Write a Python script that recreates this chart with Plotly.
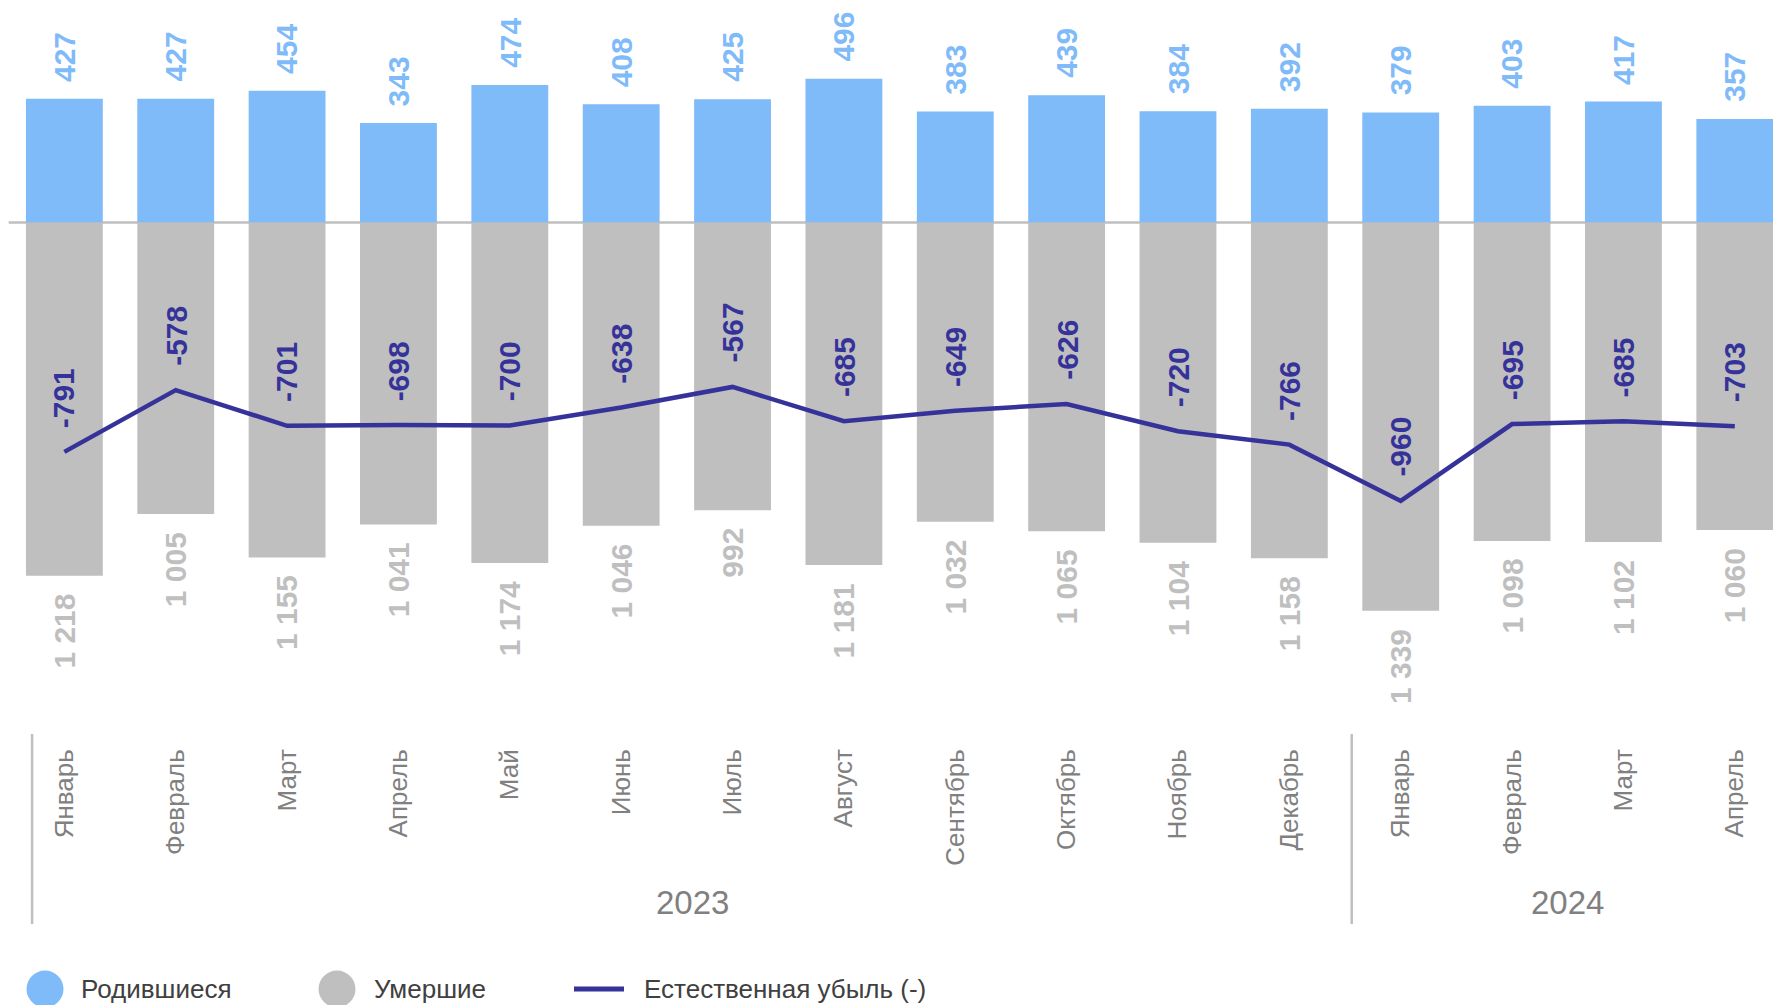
import plotly.graph_objects as go

months = ["Январь", "Февраль", "Март", "Апрель", "Май", "Июнь", "Июль", "Август",
          "Сентябрь", "Октябрь", "Ноябрь", "Декабрь", "Январь", "Февраль", "Март", "Апрель"]
years = ["2023", "2024"]
births = [427, 427, 454, 343, 474, 408, 425, 496, 383, 439, 384, 392, 379, 403, 417, 357]
deaths = [1218, 1005, 1155, 1041, 1174, 1046, 992, 1181, 1032, 1065, 1104, 1158, 1339, 1098, 1102, 1060]
natural = [-791, -578, -701, -698, -700, -638, -567, -685, -649, -626, -720, -766, -960, -695, -685, -703]

W, H = 1773, 1005
PH = 735  # plot area height (px)
BLUE = "#7FBAF9"
GRAY = "#BFBFBF"
NAVY = "#35329A"
TXT = "#808080"
FONT = "Liberation Sans, Arial, sans-serif"

x = list(range(len(months)))

fig = go.Figure()
fig.add_trace(go.Bar(x=x, y=births, marker=dict(color=BLUE, line=dict(width=0)),
                     width=0.69, name="Родившиеся", showlegend=False, hoverinfo="y"))
fig.add_trace(go.Bar(x=x, y=[-d for d in deaths], marker=dict(color=GRAY, line=dict(width=0)),
                     width=0.69, name="Умершие", showlegend=False, hoverinfo="y"))
fig.add_trace(go.Scatter(x=x, y=natural, mode="lines", line=dict(color=NAVY, width=4.5),
                         name="Естественная убыль (-)", showlegend=False))

ann = []
for i in x:
    ann.append(dict(x=i, y=births[i], xref="x", yref="y", text=str(births[i]),
                    textangle=-90, showarrow=False, yanchor="bottom", xanchor="center",
                    yshift=15, font=dict(family=FONT, size=30, color=BLUE, weight="bold")))
    ann.append(dict(x=i, y=-deaths[i], xref="x", yref="y",
                    text=f"{deaths[i]:,}".replace(",", " "),
                    textangle=-90, showarrow=False, yanchor="top", xanchor="center",
                    yshift=-16, font=dict(family=FONT, size=30, color=GRAY, weight="bold")))
    ann.append(dict(x=i, y=natural[i], xref="x", yref="y", text=str(natural[i]),
                    textangle=-90, showarrow=False, yanchor="bottom", xanchor="center",
                    yshift=22, font=dict(family=FONT, size=30, color=NAVY, weight="bold")))

# year labels
yy = (PH - 902) / PH
ann.append(dict(x=5.64, y=yy, xref="x", yref="paper", text=years[0], showarrow=False,
                yanchor="middle", font=dict(family=FONT, size=33, color=TXT)))
ann.append(dict(x=13.5, y=yy, xref="x", yref="paper", text=years[1], showarrow=False,
                yanchor="middle", font=dict(family=FONT, size=33, color=TXT)))

# legend texts
ly = (PH - 989) / PH
legend_items = [("Родившиеся", 79), ("Умершие", 372), ("Естественная убыль (-)", 642)]
for t, px in legend_items:
    ann.append(dict(x=px / W, y=ly, xref="paper", yref="paper", text=t, showarrow=False,
                    xanchor="left", yanchor="middle",
                    font=dict(family=FONT, size=26, color="#404040")))

shapes = []
# zero line
shapes.append(dict(type="line", xref="x", yref="y", x0=-0.5, x1=16, y0=0, y1=0,
                   line=dict(color=GRAY, width=2.5), layer="below"))
# group separators
for sx in (-0.29, 11.56):
    shapes.append(dict(type="line", xref="x", yref="paper", x0=sx, x1=sx,
                       y0=(PH - 734) / PH, y1=(PH - 924) / PH,
                       line=dict(color=GRAY, width=2.5)))
# legend symbols
r = 18.5
for cx, col in ((45, BLUE), (337, GRAY)):
    shapes.append(dict(type="circle", xref="paper", yref="paper",
                       x0=(cx - r) / W, x1=(cx + r) / W,
                       y0=ly - r / PH, y1=ly + r / PH,
                       fillcolor=col, line=dict(width=0)))
shapes.append(dict(type="line", xref="paper", yref="paper", x0=574 / W, x1=624 / W,
                   y0=ly, y1=ly, line=dict(color=NAVY, width=5)))

fig.update_layout(
    width=W, height=H,
    margin=dict(l=0, r=0, t=0, b=H - PH),
    paper_bgcolor="white", plot_bgcolor="white",
    barmode="relative",
    showlegend=False,
    annotations=ann,
    shapes=shapes,
    xaxis=dict(range=[-0.578, 15.343], tickmode="array", tickvals=x, ticktext=months,
               tickangle=-90, ticks="", showgrid=False, zeroline=False, showline=False,
               tickfont=dict(family=FONT, size=26, color=TXT), ticklabelstandoff=8),
    yaxis=dict(range=[-(PH - 222.5) / 0.29, 222.5 / 0.29], showticklabels=False,
               showgrid=False, zeroline=False, showline=False, ticks=""),
)

fig.write_html("out.html", config={"displayModeBar": False},
               post_script="document.body.style.margin='0';document.body.style.overflow='hidden';")
